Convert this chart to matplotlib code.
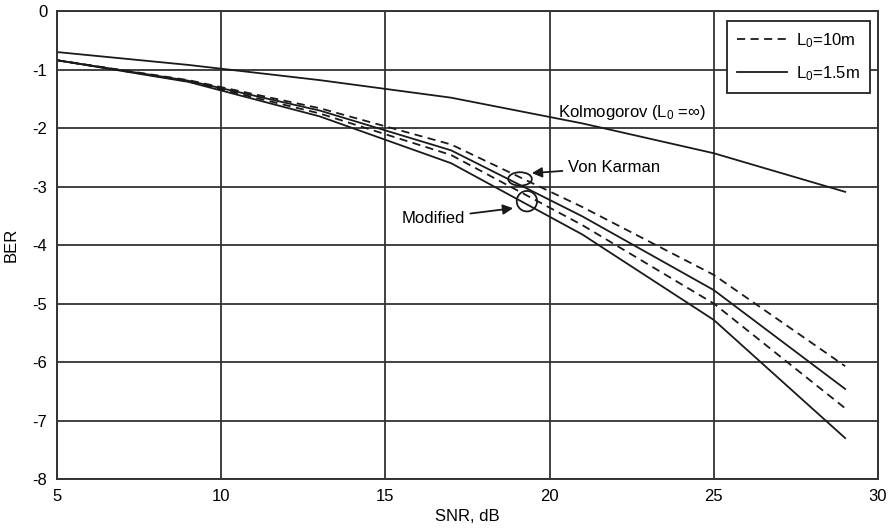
import matplotlib
matplotlib.use('Agg')
import matplotlib.pyplot as plt
from matplotlib.patches import Ellipse

plt.rcParams['font.family'] = ['Liberation Sans', 'DejaVu Sans']
plt.rcParams['mathtext.fontset'] = 'custom'
plt.rcParams['mathtext.rm'] = 'Liberation Sans'
plt.rcParams['mathtext.it'] = 'Liberation Sans'

# SNR grid (dB) and log10(BER) for each curve
snr = [5, 9, 13, 17, 21, 25, 29]
kolmogorov = [-0.70, -0.92, -1.18, -1.48, -1.92, -2.43, -3.09]
vk_10m = [-0.84, -1.18, -1.66, -2.28, -3.35, -4.51, -6.07]
vk_15m = [-0.84, -1.19, -1.70, -2.38, -3.51, -4.77, -6.46]
mod_10m = [-0.84, -1.20, -1.75, -2.46, -3.66, -5.00, -6.79]
mod_15m = [-0.84, -1.21, -1.80, -2.60, -3.82, -5.28, -7.30]

xticks = [5, 10, 15, 20, 25, 30]
yticks = [0, -1, -2, -3, -4, -5, -6, -7, -8]

fig = plt.figure(figsize=(8.9, 5.29), dpi=100)
ax = fig.add_axes([0.064, 0.0945, 0.9225, 0.8845])

ink = '#1a1a1a'
dash = (0, (4.5, 3))
ax.plot(snr, kolmogorov, color=ink, lw=1.3)
ax.plot(snr, vk_10m, color=ink, lw=1.3, ls=dash)
ax.plot(snr, vk_15m, color=ink, lw=1.3)
ax.plot(snr, mod_10m, color=ink, lw=1.3, ls=dash)
ax.plot(snr, mod_15m, color=ink, lw=1.3)

# legend entries
h1, = ax.plot([], [], color=ink, lw=1.3, ls=dash, label=r'L$_0$=10m')
h2, = ax.plot([], [], color=ink, lw=1.3, label=r'L$_0$=1.5m')
leg = ax.legend(handles=[h1, h2], loc='upper right', bbox_to_anchor=(0.990, 0.9786),
                borderaxespad=0, fontsize=12, fancybox=False, framealpha=1,
                edgecolor='#222222', handlelength=3.0, borderpad=0.6,
                labelspacing=0.85, handletextpad=0.55)
leg.get_frame().set_linewidth(1.3)

ax.set_xlim(5, 30)
ax.set_ylim(-8, 0)
ax.set_xticks(xticks)
ax.set_yticks(yticks)
ax.set_yticklabels([str(v) for v in yticks])
ax.tick_params(length=0, labelsize=12, pad=7)
ax.grid(True, color='#333333', lw=1.3)
ax.set_axisbelow(True)
for s in ax.spines.values():
    s.set_linewidth(1.4)
    s.set_color('#333333')

ax.set_xlabel('SNR, dB', fontsize=12, labelpad=4)
ax.set_ylabel('BER', fontsize=12, labelpad=10)

# annotations
ax.text(20.26, -1.74, r'Kolmogorov (L$_0$ =$\infty$)', fontsize=12, va='center', ha='left')
ax.add_patch(Ellipse((19.1, -2.87), 0.72, 0.23, fill=False, ec=ink, lw=1.3))
ax.add_patch(Ellipse((19.31, -3.25), 0.62, 0.35, fill=False, ec=ink, lw=1.3))
ax.annotate('Von Karman', xy=(19.46, -2.77), xytext=(20.56, -2.67), fontsize=12,
            va='center', ha='left',
            arrowprops=dict(arrowstyle='-|>', color=ink, lw=1.3,
                            mutation_scale=15, shrinkA=2, shrinkB=0))
ax.annotate('Modified', xy=(18.89, -3.37), xytext=(17.42, -3.54), fontsize=12,
            va='center', ha='right',
            arrowprops=dict(arrowstyle='-|>', color=ink, lw=1.3,
                            mutation_scale=15, shrinkA=2, shrinkB=0))

fig.savefig('out.png', dpi=100)
